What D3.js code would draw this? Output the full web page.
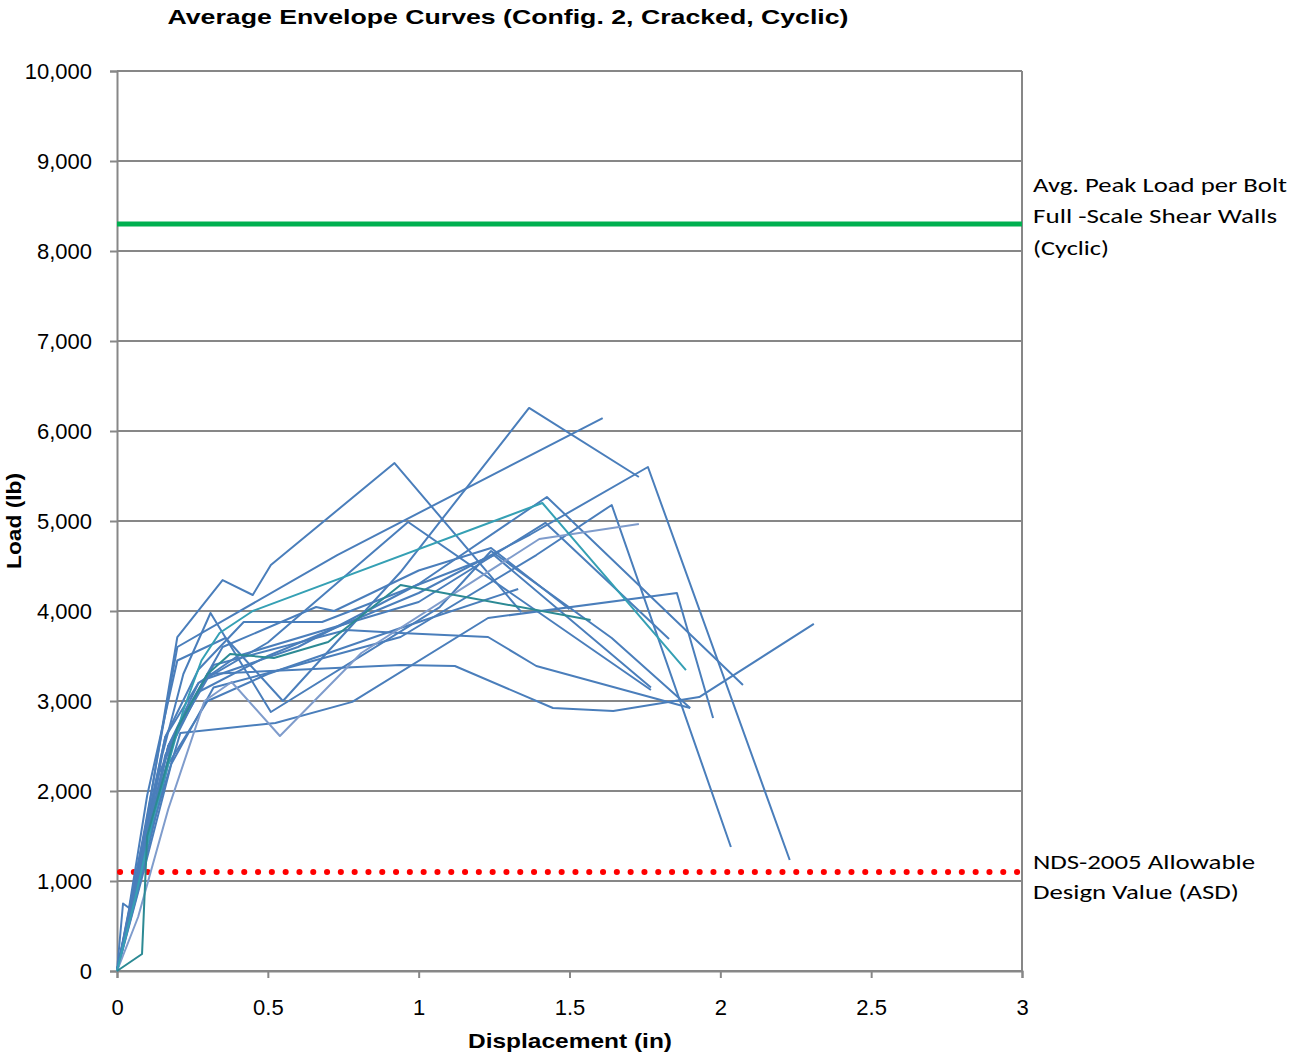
<!DOCTYPE html>
<html>
<head>
<meta charset="utf-8">
<script src="https://cdn.jsdelivr.net/npm/d3@7"></script>
<style>
  body { margin: 0; background: #fff; }
  svg { display: block; }
</style>
</head>
<body>
<script>
// envelope curves, [displacement (in), load (lb)]
var specA = [[0,0],[0.02,750],[0.04,700],[0.1,1950],[0.2,3450],[0.36,3700],[0.55,3000],[0.94,4433],[1.366,6256],[1.73,5489]];
var specB = [[0,0],[0.06,1000],[0.12,2100],[0.2,3711],[0.35,4344],[0.45,4178],[0.51,4511],[0.92,5644],[1.34,3989]];
var specC = [[0,0],[0.07,1100],[0.13,2300],[0.2,3600],[0.73,4622],[1.61,6144]];
var specE = [[0,0],[0.07,1000],[0.15,2400],[0.22,3300],[0.31,3978],[0.51,2878],[1.07,4044],[1.24,4667],[1.64,3700],[1.9,2922]];
var specR = [[0,0],[0.08,1200],[0.17,2500],[0.27,3200],[0.5,3650],[0.965,4989],[1.77,3122]];
var specF = [[0,0],[0.07,1000],[0.16,2400],[0.27,3100],[0.5,3500],[1.0,4200],[1.37,4850],[1.76,5600],[2.23,1233]];
var specG = [[0,0],[0.08,1100],[0.17,2500],[0.3,3250],[0.6,3600],[1.0,4300],[1.425,5267],[2.075,3178]];
var specH = [[0,0],[0.06,800],[0.12,1700],[0.22,2900],[0.28,3450],[0.34,3756],[0.45,4000],[1.41,5200],[1.886,3344]];
var specI = [[0,0],[0.08,1000],[0.18,2300],[0.32,3150],[0.6,3400],[0.94,3711],[1.39,4622],[1.64,5178],[2.035,1378]];
var specJ = [[0,0],[0.07,600],[0.17,1800],[0.29,3000],[0.38,3211],[0.54,2611],[0.81,3533],[1.40,4800],[1.73,4967]];
var specK = [[0,0],[0.08,1300],[0.16,2600],[0.27,3200],[0.4,3500],[1.0,4100],[1.42,4980],[1.83,3689]];
var specM = [[0,0],[0.09,1300],[0.21,2644],[0.525,2756],[0.78,2990],[1.23,3922],[1.856,4200],[1.976,2811]];
var specN = [[0,0],[0.08,1200],[0.18,2500],[0.3,3300],[0.94,3400],[1.12,3389],[1.445,2922],[1.645,2889],[1.93,3044],[2.31,3856]];
var specO = [[0,0],[0.07,1100],[0.17,2500],[0.32,3400],[0.76,3789],[0.94,3756],[1.23,3711],[1.39,3389],[1.9,2922]];
var specQ = [[0,0],[0.083,189],[0.1,1500],[0.2,2700],[0.3,3300],[0.375,3522],[0.52,3478],[0.70,3656],[0.94,4289],[1.57,3900]];
var specU = [[0,0],[0.07,1200],[0.16,2600],[0.27,3350],[0.42,3878],[0.68,3878],[1.25,4620],[1.77,3150]];
var specV = [[0,0],[0.06,900],[0.14,2200],[0.24,2950],[0.35,3600],[0.66,4044],[0.72,4000],[1.0,4450],[1.24,4700],[1.5,4020]];
var specW = [[0,0],[0.07,900],[0.17,2300],[0.3,3000],[0.5,3300],[0.94,3811],[1.33,4244]];

var specimens = [specA, specB, specC, specE, specR, specF, specG, specI, specK, specM, specN, specO, specU, specV, specW, specJ, specH, specQ];
var specColors = ["#4a7ebb","#4a7ebb","#4a7ebb","#4a7ebb","#4a7ebb","#4a7ebb","#4a7ebb","#4a7ebb","#4a7ebb","#4a7ebb","#4a7ebb","#4a7ebb","#4a7ebb","#4a7ebb","#4a7ebb","#7f9ccc","#35a0b4","#2c8a94"];

var peakLoad = 8300;      // avg. peak load per bolt, full-scale walls
var ndsValue = 1100;      // NDS-2005 ASD value
var xTicks = [0, 0.5, 1, 1.5, 2, 2.5, 3];
var yTicks = [0,1000,2000,3000,4000,5000,6000,7000,8000,9000,10000];

var W = 1290, H = 1055;
var plotLeft = 117, plotRight = 1022, plotTop = 71, plotBottom = 971;

var svg = d3.select("body").append("svg")
    .attr("width", W)
    .attr("height", H)
    .attr("font-family", "'Liberation Sans', Arial, sans-serif");

var x = d3.scaleLinear().domain([0, 3]).range([plotLeft, plotRight]);
var y = d3.scaleLinear().domain([0, 10000]).range([plotBottom, plotTop]);

// grid
svg.append("g").selectAll("line")
    .data(yTicks)
    .enter().append("line")
        .attr("x1", plotLeft).attr("x2", plotRight)
        .attr("y1", function(d) { return y(d); })
        .attr("y2", function(d) { return y(d); })
        .attr("stroke", "#878787")
        .attr("stroke-width", 2);

svg.append("line")
    .attr("x1", plotRight).attr("x2", plotRight)
    .attr("y1", plotTop).attr("y2", plotBottom)
    .attr("stroke", "#878787").attr("stroke-width", 2);

var yAxis = svg.append("g")
    .attr("transform", "translate(" + plotLeft + ",0)")
    .call(d3.axisLeft(y).tickValues(yTicks).tickSize(7).tickPadding(18).tickFormat(d3.format(",")));
var xAxis = svg.append("g")
    .attr("transform", "translate(0," + plotBottom + ")")
    .call(d3.axisBottom(x).tickValues(xTicks).tickSize(7).tickPadding(25).tickFormat(d3.format("")));

[yAxis, xAxis].forEach(function(ax){
    ax.select(".domain").attr("stroke", "#878787").attr("stroke-width", 2);
    ax.selectAll(".tick line").attr("stroke", "#878787").attr("stroke-width", 2);
    ax.selectAll(".tick text")
        .attr("fill", "#000")
        .style("font-size", "22px")
        .style("font-family", "'Liberation Sans', Arial, sans-serif");
});
yAxis.selectAll(".tick text").attr("dy", "0.35em");
xAxis.selectAll(".tick text").attr("dy", "0.55em");

// reference lines
svg.append("line")
    .attr("x1", x(0)).attr("x2", x(3))
    .attr("y1", y(peakLoad)).attr("y2", y(peakLoad))
    .attr("stroke", "#00b050")
    .attr("stroke-width", 5);

svg.append("line")
    .attr("x1", x(0) + 3).attr("x2", x(3))
    .attr("y1", y(ndsValue)).attr("y2", y(ndsValue))
    .attr("stroke", "#ff0000")
    .attr("stroke-width", 6)
    .attr("stroke-linecap", "round")
    .attr("stroke-dasharray", "0.1,13.7");

// curves
var line = d3.line()
    .x(function(d) { return x(d[0]); })
    .y(function(d) { return y(d[1]); });

svg.append("g").selectAll("path")
    .data(specimens)
    .enter().append("path")
        .attr("d", line)
        .attr("fill", "none")
        .attr("stroke", function(d, i) { return specColors[i]; })
        .attr("stroke-width", 2)
        .attr("stroke-linejoin", "round");

// titles
svg.append("text")
    .attr("x", 508).attr("y", 24)
    .attr("text-anchor", "middle")
    .attr("font-weight", "bold")
    .attr("font-size", 21)
    .attr("textLength", 681)
    .attr("lengthAdjust", "spacingAndGlyphs")
    .text("Average Envelope Curves (Config.  2, Cracked, Cyclic)");

svg.append("text")
    .attr("x", 570).attr("y", 1048)
    .attr("text-anchor", "middle")
    .attr("font-weight", "bold")
    .attr("font-size", 21)
    .attr("textLength", 204)
    .attr("lengthAdjust", "spacingAndGlyphs")
    .text("Displacement (in)");

svg.append("text")
    .attr("transform", "translate(21,521) rotate(-90)")
    .attr("text-anchor", "middle")
    .attr("font-weight", "bold")
    .attr("font-size", 21)
    .attr("textLength", 96)
    .attr("lengthAdjust", "spacingAndGlyphs")
    .text("Load (lb)");

// annotations
var noteFont = "Carlito, 'Open Sans', 'Noto Sans', sans-serif";
var notes = [
    ["Avg. Peak Load per Bolt", 192, 254],
    ["Full -Scale Shear Walls", 223, 244],
    ["(Cyclic)", 255, 76],
    ["NDS-2005 Allowable", 869, 222],
    ["Design Value (ASD)", 899, 206]
];
svg.append("g").selectAll("text")
    .data(notes)
    .enter().append("text")
        .attr("x", 1033)
        .attr("y", function(d) { return d[1]; })
        .attr("font-family", noteFont)
        .attr("font-size", 20)
        .attr("textLength", function(d) { return d[2]; })
        .attr("lengthAdjust", "spacingAndGlyphs")
        .text(function(d) { return d[0]; });
</script>
</body>
</html>
